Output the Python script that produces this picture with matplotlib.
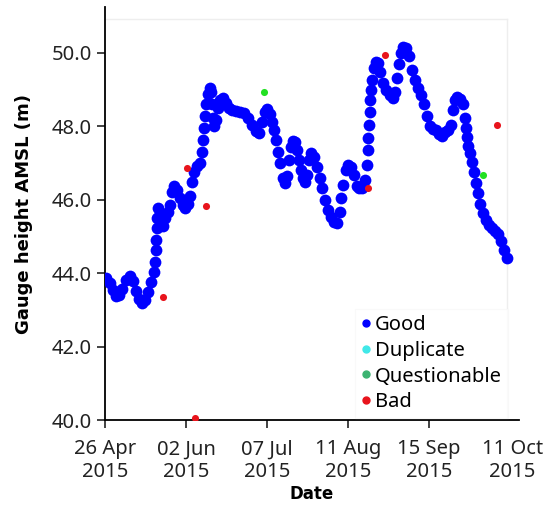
import matplotlib
matplotlib.use("Agg")
import matplotlib.pyplot as plt
from matplotlib.lines import Line2D

plt.rcParams['font.family'] = ['Noto Sans', 'DejaVu Sans']

# days since 26 Apr 2015 and gauge height (m AMSL)
good_day = [0.5, 2.2, 3.5, 4.8, 6.1, 7.3, 9.1, 10.8, 12.1, 13.4, 14.7, 16.0, 17.3, 18.6, 19.9,
            21.2, 21.6, 22.0, 22.1, 22.5, 22.6, 22.9, 23.8, 25.1, 25.9, 27.2, 28.1, 29.0, 29.8,
            31.1, 32.4, 33.7, 34.6, 35.9, 36.7, 37.6, 38.5, 39.8, 41.1, 41.9, 42.4, 42.8, 43.2,
            43.7, 44.5, 45.4, 45.9, 46.3, 46.7, 47.2, 48.0, 48.9, 49.7, 51.0, 52.3, 53.6, 54.9,
            56.6, 58.3, 60.1, 61.8, 63.5, 65.3, 66.6, 67.9, 69.1, 70.0, 71.3, 72.2, 73.0, 73.9,
            74.8, 75.6, 76.9, 77.8, 78.7, 79.5, 80.4, 81.2, 82.1, 83.0, 83.8, 84.7, 85.6, 86.4,
            87.3, 88.2, 89.0, 90.3, 91.6, 92.9, 93.8, 95.1, 96.4, 97.7, 99.0, 100.3, 101.6, 102.0,
            102.9, 104.1, 105.0, 106.3, 107.6, 108.9, 109.8, 111.1, 112.4, 113.2, 113.7, 113.8,
            114.1, 114.3, 114.6, 115.0, 115.4, 116.3, 117.1, 118.0, 118.9, 120.2, 121.4, 123.2,
            124.5, 125.3, 126.2, 127.1, 127.9, 128.8, 130.1, 131.4, 132.7, 134.0, 135.3, 136.6,
            137.9, 139.2, 140.5, 141.7, 143.0, 144.3, 145.6, 146.9, 148.2, 149.5, 150.4, 151.3,
            152.1, 153.4, 154.7, 155.6, 156.0, 156.4, 156.9, 157.7, 158.6, 159.5, 160.3, 161.2,
            162.1, 163.4, 164.6, 165.9, 167.2, 168.5, 169.8, 171.1, 172.4, 173.7]
good_val = [43.87, 43.73, 43.54, 43.38, 43.41, 43.57, 43.81, 43.92, 43.79, 43.51, 43.30, 43.19,
            43.27, 43.49, 43.76, 44.03, 44.30, 44.63, 44.90, 45.23, 45.50, 45.78, 45.64, 45.29,
            45.50, 45.67, 45.86, 46.21, 46.38, 46.27, 46.05, 45.86, 45.78, 45.89, 46.10, 46.48,
            46.76, 46.92, 47.00, 47.30, 47.63, 47.96, 48.28, 48.61, 48.88, 49.05, 48.94, 48.61,
            48.23, 48.01, 48.17, 48.50, 48.72, 48.77, 48.64, 48.50, 48.45, 48.42, 48.39, 48.36,
            48.23, 48.04, 47.87, 47.82, 48.12, 48.39, 48.47, 48.34, 48.12, 47.90, 47.63, 47.30,
            47.00, 46.59, 46.46, 46.65, 47.08, 47.44, 47.60, 47.57, 47.36, 47.08, 46.81, 46.59,
            46.48, 46.68, 47.08, 47.27, 47.17, 46.89, 46.59, 46.32, 45.99, 45.72, 45.53, 45.39,
            45.37, 45.67, 46.05, 46.40, 46.81, 46.95, 46.89, 46.68, 46.38, 46.32, 46.32, 46.54,
            46.95, 47.36, 47.68, 48.04, 48.39, 48.72, 48.99, 49.26, 49.59, 49.75, 49.73, 49.48,
            49.18, 48.99, 48.86, 48.77, 48.94, 49.32, 49.70, 50.00, 50.16, 50.14, 49.92, 49.54,
            49.26, 49.05, 48.86, 48.61, 48.28, 48.01, 47.93, 47.90, 47.79, 47.74, 47.85, 47.90,
            48.04, 48.45, 48.72, 48.80, 48.75, 48.61, 48.23, 47.96, 47.71, 47.47, 47.27, 47.03,
            46.76, 46.46, 46.18, 45.89, 45.64, 45.45, 45.31, 45.23, 45.15, 45.07, 44.88, 44.63,
            44.41]

bad_day = [25.1, 35.4, 43.6, 38.9, 113.7, 121.0, 169.4]
bad_val = [43.35, 46.87, 45.83, 40.05, 46.32, 49.95, 48.04]

quest_day = [68.7, 163.4]
quest_val = [48.94, 46.68]

tick_pos = [0, 35, 70, 105, 140, 176]
tick_labels = ['26 Apr\n2015', '02 Jun\n2015', '07 Jul\n2015',
               '11 Aug\n2015', '15 Sep\n2015', '11 Oct\n2015']
y_ticks = [40, 42, 44, 46, 48, 50]

fig = plt.figure(figsize=(5.48, 5.08), dpi=100)
ax = fig.add_axes([105 / 548, 88 / 508, 414 / 548, 413 / 508])

# faint inner frame of the plotting region
ax.plot([0, 173.7], [50.93, 50.93], color='#eeeeee', lw=1, zorder=1)
ax.plot([173.7, 173.7], [40, 50.93], color='#eeeeee', lw=1, zorder=1)

ax.scatter(good_day, good_val, s=72, color='#0000ff', linewidths=0, zorder=3)
ax.scatter(quest_day, quest_val, s=26, color='#22e022', linewidths=0, zorder=4)
ax.scatter(bad_day, bad_val, s=26, color='#e8141c', linewidths=0, zorder=4)

ax.set_xlim(0, 178.9)
ax.set_ylim(40, 51.25)
ax.set_xticks(tick_pos)
ax.set_xticklabels(tick_labels)
ax.set_yticks(y_ticks)
ax.set_yticklabels([f"{v:.1f}" for v in y_ticks])
ax.xaxis.get_major_ticks()[-1].tick1line.set_visible(False)

ax.spines['top'].set_visible(False)
ax.spines['right'].set_visible(False)
ax.tick_params(axis='both', labelsize=14.5, length=6, width=1.2, colors='#222222')
ax.tick_params(axis='x', pad=8)
for sp in ['left', 'bottom']:
    ax.spines[sp].set_linewidth(1.3)

ax.set_xlabel('Date', fontsize=12, weight='bold', labelpad=2, family='DejaVu Sans')
ax.set_ylabel('Gauge height AMSL (m)', fontsize=13, weight='bold', labelpad=13,
              family='DejaVu Sans')

handles = [
    Line2D([], [], marker='o', ls='', markersize=5, color='#0000ff', label='Good'),
    Line2D([], [], marker='o', ls='', markersize=5, color='#40e8e8', label='Duplicate'),
    Line2D([], [], marker='o', ls='', markersize=5, color='#3cb371', label='Questionable'),
    Line2D([], [], marker='o', ls='', markersize=5, color='#e8141c', label='Bad'),
]
leg = ax.legend(handles=handles, loc='lower right', bbox_to_anchor=(0.997, -0.02),
                fontsize=14.5, handlelength=0.5, handletextpad=0.2,
                labelspacing=0.28, borderpad=0.3, frameon=True, fancybox=False)
leg.get_frame().set_edgecolor('#f8f8f8')
leg.get_frame().set_linewidth(0.8)

fig.savefig('out.png', dpi=100)
